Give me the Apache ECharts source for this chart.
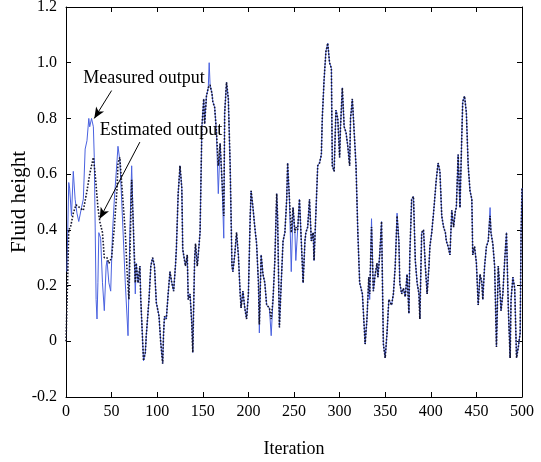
<!DOCTYPE html>
<html><head><meta charset="utf-8">
<script src="https://cdn.jsdelivr.net/npm/echarts@6/dist/echarts.min.js"></script>
<style>html,body{margin:0;padding:0;background:#fff}#c{width:541px;height:462px}</style>
</head><body><div id="c"></div>
<script>
const xTicks = [0,50,100,150,200,250,300,350,400,450,500];
const yTicks = [-0.2,0,0.2,0.4,0.6,0.8,1.0,1.2];

const estIter = [0,2,3,5,8,11,15,19,23,26,30,32,35,37,40,42,45,47,50,53,56,57,59,61,63,65,67,69,72,74,76,77,79,81,82,85,87,88,91,93,95,97,99,102,104,106,107,108,110,112,114,116,118,120,121,123,125,127,128,130,131,133,134,136,138,139,141,142,144,145,147,149,151,152,154,156,158,160,161,163,165,167,169,171,173,174,176,178,180,182,183,185,187,189,191,192,194,196,198,200,202,203,205,207,209,211,212,214,216,218,220,221,223,225,227,229,231,232,234,236,238,240,242,243,245,247,249,251,252,254,256,258,260,262,263,265,267,269,271,272,274,276,278,280,281,283,285,287,289,291,292,294,296,298,300,301,303,305,307,309,311,312,314,316,318,320,322,325,328,330,332,333,335,337,339,341,342,344,346,348,350,352,354,357,359,361,363,365,366,368,370,372,374,376,377,379,381,383,385,387,388,390,392,394,396,398,399,401,403,405,406,408,410,412,414,416,417,419,421,423,425,427,428,430,432,434,435,437,439,441,443,445,446,448,450,452,454,456,457,459,461,463,465,466,468,470,472,474,476,477,479,481,483,485,487,488,490,492,494,496,498,499,500];
const estVal = [0.0,0.25,0.40,0.41,0.46,0.49,0.48,0.47,0.54,0.60,0.66,0.60,0.48,0.43,0.39,0.30,0.30,0.28,0.30,0.41,0.55,0.64,0.66,0.57,0.48,0.39,0.25,0.15,0.58,0.40,0.21,0.28,0.21,0.27,0.15,-0.07,-0.04,0.02,0.15,0.27,0.30,0.27,0.14,0.09,-0.01,-0.08,0.03,0.09,0.08,0.17,0.25,0.21,0.18,0.27,0.33,0.53,0.63,0.55,0.33,0.29,0.27,0.31,0.15,0.17,0.06,-0.04,0.29,0.35,0.27,0.31,0.39,0.77,0.87,0.78,0.88,0.91,0.92,0.89,0.86,0.84,0.75,0.63,0.71,0.58,0.45,0.82,0.93,0.87,0.63,0.27,0.25,0.31,0.39,0.31,0.17,0.12,0.18,0.12,0.08,0.17,0.45,0.54,0.48,0.41,0.35,0.21,0.06,0.31,0.24,0.21,0.13,0.13,0.12,0.08,0.15,0.29,0.53,0.45,0.05,0.21,0.36,0.39,0.51,0.64,0.51,0.39,0.48,0.39,0.41,0.40,0.51,0.36,0.21,0.36,0.39,0.41,0.51,0.36,0.39,0.29,0.46,0.63,0.64,0.67,0.80,0.94,1.04,1.07,1.00,0.98,0.63,0.61,0.83,0.80,0.66,0.77,0.91,0.77,0.75,0.70,0.63,0.80,0.87,0.75,0.63,0.39,0.21,0.17,-0.01,0.08,0.23,0.17,0.41,0.18,0.24,0.28,0.23,0.31,0.43,-0.01,-0.06,0.03,0.15,0.13,0.17,0.27,0.45,0.36,0.21,0.17,0.19,0.16,0.24,0.10,0.31,0.51,0.52,0.29,0.21,0.17,0.08,0.39,0.40,0.27,0.17,0.27,0.34,0.39,0.46,0.54,0.58,0.64,0.61,0.45,0.41,0.39,0.36,0.34,0.31,0.47,0.41,0.47,0.48,0.67,0.48,0.74,0.86,0.88,0.82,0.63,0.54,0.51,0.31,0.34,0.28,0.13,0.24,0.21,0.15,0.27,0.34,0.36,0.45,0.39,0.35,0.27,-0.02,0.27,0.17,0.11,0.17,0.29,0.39,0.12,-0.06,0.15,0.23,0.19,-0.06,-0.02,0.03,0.39,0.55];

const measIter = [1,2,3,4,5,6,8,10,12,14,17,19,21,23,25,26,28,30,31,32,33,34,35,36,38,40,42,44,45,47,49,51,53,56,57,59,61,63,65,68,70,72,74,76,77,79,81,82,85,87,88,91,93,95,97,99,102,104,106,107,108,110,112,114,116,118,120,121,123,125,127,128,130,131,133,134,136,138,139,141,142,144,145,147,149,151,152,154,156,157,158,160,161,163,165,167,169,171,173,174,176,178,180,182,183,185,187,189,191,192,194,196,198,200,202,203,205,207,209,211,212,214,216,218,220,221,223,225,227,229,231,232,234,236,238,240,242,243,245,247,249,251,252,254,256,258,260,262,263,265,267,269,271,272,274,276,278,280,281,283,285,287,289,291,292,294,296,298,300,301,303,305,307,309,311,312,314,316,318,320,322,325,328,330,332,333,335,337,339,341,342,344,346,348,350,352,354,357,359,361,363,365,366,368,370,372,374,376,377,379,381,383,385,387,388,390,392,394,396,398,399,401,403,405,406,408,410,412,414,416,417,419,421,423,425,427,428,430,432,434,435,437,439,441,443,445,446,448,450,452,454,456,457,459,461,463,465,466,468,470,472,474,476,477,479,481,483,485,487,488,490,492,494,496,498,499,500];
const measVal = [0.25,0.41,0.57,0.55,0.50,0.45,0.61,0.51,0.46,0.43,0.48,0.51,0.69,0.72,0.80,0.77,0.80,0.77,0.66,0.41,0.15,0.08,0.21,0.39,0.37,0.21,0.11,0.27,0.29,0.21,0.18,0.39,0.51,0.65,0.70,0.65,0.51,0.36,0.21,0.02,0.39,0.63,0.39,0.17,0.28,0.21,0.27,0.15,-0.07,-0.04,0.02,0.15,0.27,0.30,0.27,0.14,0.09,-0.01,-0.08,0.03,0.09,0.08,0.17,0.25,0.21,0.18,0.27,0.33,0.53,0.63,0.55,0.33,0.29,0.27,0.31,0.15,0.17,0.06,-0.04,0.29,0.35,0.27,0.31,0.39,0.77,0.87,0.78,0.88,0.91,1.00,0.92,0.89,0.86,0.84,0.75,0.53,0.71,0.58,0.37,0.82,0.93,0.87,0.63,0.27,0.25,0.31,0.39,0.31,0.17,0.12,0.18,0.12,0.08,0.17,0.45,0.54,0.48,0.41,0.35,0.21,0.03,0.31,0.24,0.21,0.13,0.13,0.12,0.02,0.15,0.29,0.53,0.45,0.05,0.21,0.36,0.39,0.51,0.64,0.51,0.25,0.48,0.39,0.29,0.40,0.51,0.36,0.21,0.36,0.39,0.41,0.51,0.36,0.39,0.29,0.46,0.63,0.64,0.67,0.80,0.94,1.04,1.07,1.00,0.98,0.63,0.61,0.83,0.80,0.66,0.77,0.91,0.77,0.75,0.70,0.63,0.80,0.87,0.75,0.63,0.39,0.21,0.17,-0.01,0.08,0.23,0.15,0.44,0.18,0.24,0.28,0.23,0.31,0.43,-0.01,-0.06,0.03,0.15,0.13,0.17,0.27,0.46,0.36,0.21,0.17,0.19,0.16,0.24,0.10,0.31,0.51,0.52,0.29,0.21,0.17,0.08,0.39,0.40,0.27,0.17,0.27,0.34,0.39,0.46,0.54,0.58,0.64,0.61,0.45,0.41,0.39,0.36,0.34,0.31,0.47,0.41,0.47,0.48,0.67,0.48,0.74,0.86,0.88,0.82,0.63,0.54,0.51,0.31,0.34,0.28,0.13,0.24,0.21,0.15,0.27,0.34,0.36,0.48,0.39,0.35,0.27,-0.02,0.27,0.17,0.11,0.17,0.29,0.39,0.12,-0.06,0.15,0.23,0.19,-0.06,-0.02,0.03,0.39,0.55];

const notes = [
  {text:'Measured output', at:[19, 0.944], from:[50, 0.90], to:[31, 0.80]},
  {text:'Estimated output', at:[37, 0.757], from:[81, 0.715], to:[37, 0.44]}
];

const FONT = 'Liberation Serif';
const estData = estIter.map((x,i)=>[x, estVal[i]]);
const measData = measIter.map((x,i)=>[x, measVal[i]]);
const fmtY = v => Math.abs(v) < 1e-9 ? '0' : v.toFixed(1);

const chart = echarts.init(document.getElementById('c'), null, {renderer:'canvas'});
const axisCommon = () => ({
  axisLine:{show:true, onZero:false, lineStyle:{color:'#000', width:1}},
  axisTick:{show:true, inside:true, length:5, lineStyle:{color:'#000'}},
  splitLine:{show:false}
});
chart.setOption({
  animation:false,
  backgroundColor:'#fff',
  grid:{left:66, right:19, top:7, bottom:65, containLabel:false, outerBoundsMode:'none'},
  xAxis:[
    Object.assign({type:'value', min:0, max:500, interval:50, position:'bottom',
      name:'Iteration', nameLocation:'middle', nameGap:43, nameMoveOverlap:false,
      nameTextStyle:{fontFamily:FONT, fontSize:18, color:'#000'},
      axisLabel:{fontFamily:FONT, fontSize:16, color:'#000', margin:7, formatter:v=>String(v)}}, axisCommon()),
    Object.assign({type:'value', min:0, max:500, interval:50, position:'top', axisLabel:{show:false}}, axisCommon())
  ],
  yAxis:[
    Object.assign({type:'value', min:-0.2, max:1.2, interval:0.2, position:'left',
      name:'Fluid height', nameLocation:'middle', nameGap:36, nameRotate:90, nameMoveOverlap:false,
      nameTextStyle:{fontFamily:FONT, fontSize:21, color:'#000'},
      axisLabel:{fontFamily:FONT, fontSize:16, color:'#000', margin:9, formatter:fmtY}}, axisCommon()),
    Object.assign({type:'value', min:-0.2, max:1.2, interval:0.2, position:'right', axisLabel:{show:false}}, axisCommon())
  ],
  series:[
    {name:'Measured output', type:'line', data:measData, showSymbol:false, symbol:'none',
      lineStyle:{color:'#4a62e0', width:1}, z:2},
    {name:'Estimated output', type:'line', data:estData, showSymbol:false, symbol:'none',
      lineStyle:{color:'#14142a', width:1.6, type:[1.6,1.6]}, z:3,
      markLine:{silent:true, symbol:['none','arrow'], symbolSize:[7,11], label:{show:false},
        lineStyle:{color:'#000', width:1, type:'solid'},
        data: notes.map(n=>[{coord:n.from},{coord:n.to}])}}
  ]
});
const g = notes.map(n=>{
  const p = chart.convertToPixel({xAxisIndex:0, yAxisIndex:0}, n.at);
  return {type:'text', x:p[0], y:p[1], z:10,
    style:{text:n.text, fontFamily:FONT, fontSize:18, fill:'#000', verticalAlign:'middle', align:'left'}};
});
chart.setOption({graphic:g});
</script></body></html>
